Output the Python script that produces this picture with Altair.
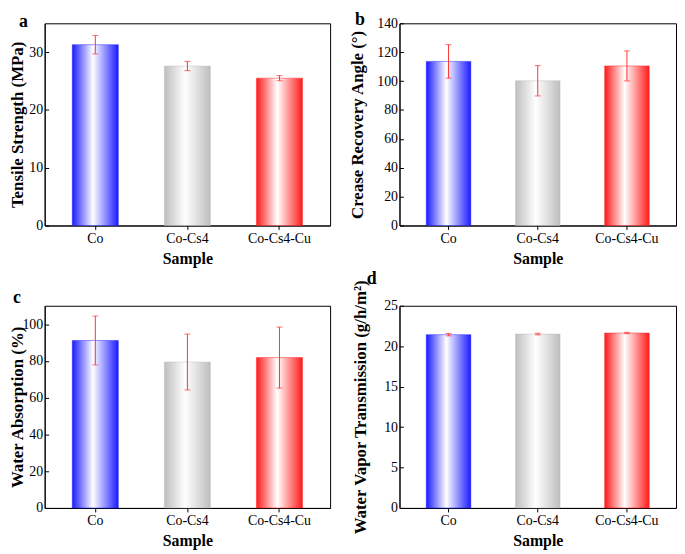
import altair as alt
import pandas as pd

samples = ["Co", "Co-Cs4", "Co-Cs4-Cu"]
bar_colors = ["#1a1aff", "#bebebe", "#ff1a1a"]
err_color = "#ff3333"

tensile = [31.3, 27.6, 25.5]
tensile_err = [1.6, 0.8, 0.45]
crease = [113.6, 100.2, 110.5]
crease_err = [11.6, 10.5, 10.4]
water_abs = [91.1, 79.4, 81.8]
water_abs_err = [13.3, 15.2, 16.6]
wvt = [21.43, 21.5, 21.63]
wvt_err = [0.15, 0.1, 0.08]

FONT = "Liberation Serif"
W1, W2, H = 288, 279, 204


def panel(values, errs, ytitle, ymax, ticks, label, width, label_dx, label_offset, title_x):
    df = pd.DataFrame({
        "Sample": samples,
        "v": values,
        "lo": [v - e for v, e in zip(values, errs)],
        "hi": [v + e for v, e in zip(values, errs)],
    })
    x = alt.X("Sample:N", sort=samples,
              scale=alt.Scale(domain=samples, paddingInner=0.5, paddingOuter=0.3),
              axis=alt.Axis(title="Sample", labelAngle=0, tickSize=4, labelPadding=2,
                            titlePadding=5, titleFontSize=16))
    yscale = alt.Scale(domain=[0, ymax], nice=False)
    yaxis = alt.Axis(title=ytitle, values=ticks, tickCount=len(ticks),
                     ticks=False, labelPadding=2,
                     labelOverlap=False, labelFlush=False,
                     grid=True, gridDash=[4, 4000], gridColor="black", gridWidth=1,
                     gridOpacity=1, titleX=title_x, titleY=H / 2)
    y = alt.Y("v:Q", scale=yscale, axis=yaxis)
    layers = []
    for s, c in zip(samples, bar_colors):
        grad = alt.LinearGradient(
            gradient="linear", x1=0, x2=1, y1=0, y2=0,
            stops=[alt.GradientStop(offset=0, color=c),
                   alt.GradientStop(offset=0.45, color="white"),
                   alt.GradientStop(offset=1, color=c)])
        layers.append(
            alt.Chart(df).transform_filter(alt.datum.Sample == s)
            .mark_bar(fill=grad, stroke=c, strokeWidth=1, strokeOpacity=0.45)
            .encode(x=x, y=y)
        )
    rule = alt.Chart(df).mark_rule(color=err_color, strokeWidth=1).encode(
        x=x, y=alt.Y("lo:Q", scale=yscale, axis=yaxis), y2="hi:Q")
    cap_lo = alt.Chart(df).mark_tick(color=err_color, size=6, thickness=1).encode(
        x=x, y=alt.Y("lo:Q", scale=yscale, axis=yaxis))
    cap_hi = alt.Chart(df).mark_tick(color=err_color, size=6, thickness=1).encode(
        x=x, y=alt.Y("hi:Q", scale=yscale, axis=yaxis))
    return alt.layer(*layers, rule, cap_lo, cap_hi).properties(
        width=width, height=H,
        title=alt.TitleParams(label, anchor="start", frame="group", dx=label_dx,
                              offset=label_offset, font=FONT, fontSize=18,
                              fontWeight="bold", color="black"),
    )


pa = panel(tensile, tensile_err, "Tensile Strength (MPa)", 35, [0, 10, 20, 30],
           "a", W1, -26, -8, -18)
pb = panel(crease, crease_err, "Crease Recovery Angle (°)", 140,
           [0, 20, 40, 60, 80, 100, 120, 140], "b", W2, -45, -13, -33)
pc = panel(water_abs, water_abs_err, "Water Absorption (%)", 110,
           [0, 20, 40, 60, 80, 100], "c", W1, -32, -1, -18)
pd_ = panel(wvt, wvt_err, "Water Vapor Transmission (g/h/m²)", 25,
            [0, 5, 10, 15, 20, 25], "d", W2, -33, -9, -30)

chart = alt.concat(pa, pb, pc, pd_, columns=2, spacing={"row": 81, "column": 70},
                   bounds="flush").properties(padding=0).configure_view(
    stroke="black", strokeWidth=1
).configure_axis(
    domainColor="black", domainWidth=1, tickColor="black", tickWidth=1,
    labelFont=FONT, labelFontSize=14, labelColor="black", labelOverlap=False,
    titleFont=FONT, titleFontSize=17, titleFontWeight="bold", titleColor="black",
)

chart.save("out.html", embed_options={"renderer": "svg", "actions": False})
